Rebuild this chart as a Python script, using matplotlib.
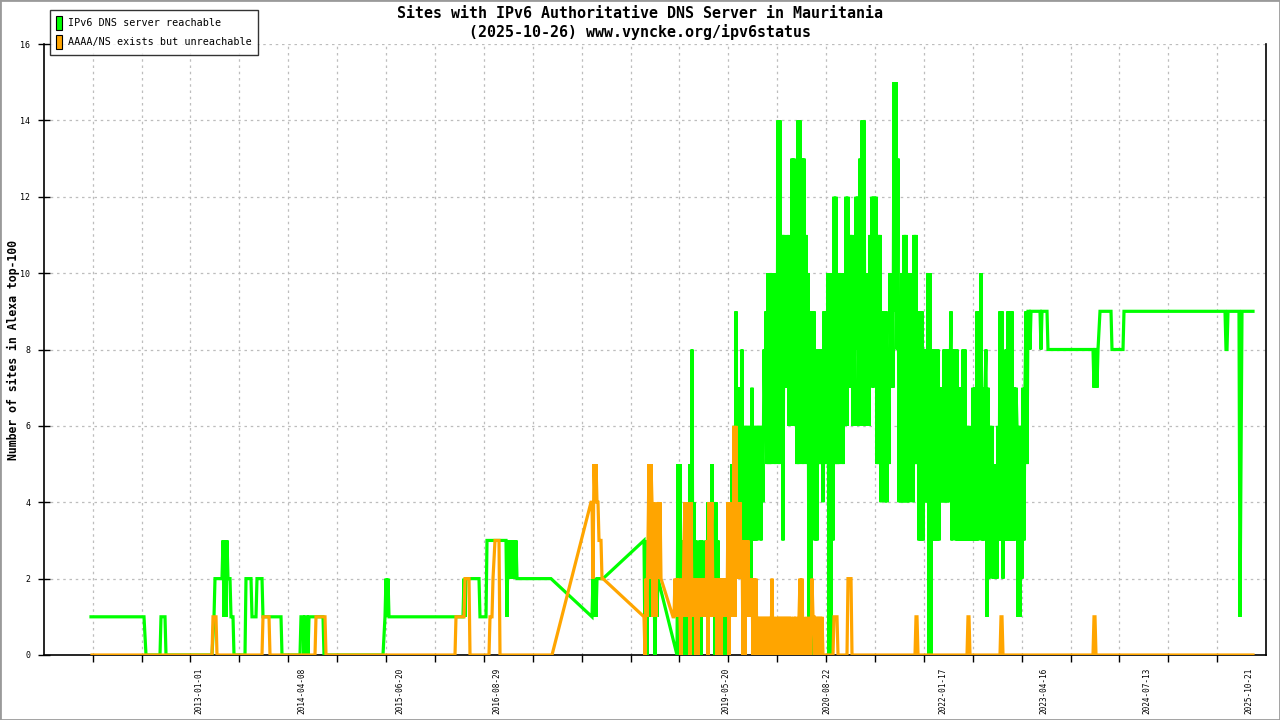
import numpy as np
import matplotlib
matplotlib.use("Agg")
import matplotlib.pyplot as plt
from matplotlib.patches import Rectangle, Patch

# ---------------- data (x = sample index on the text axis) ----------------
green_head = [(91,1),(144,1),(146,0),(160,0),(161,1),(165,1),(166,0),(212,0),(214,1),(215,2),
              (222,2),(223,3),(224,1),(225,3),(226,1),(227,3),(228,2),(230,2),(231,1),(233,1),
              (234,0),(245,0),(246,2),(251,2),(252,1),(256,1),(257,2),(262,2),(263,1),(281,1),
              (282,0),(300,0),(301,1),(303,1),(304,0),(305,1),(307,1),(308,0),(309,1),(323,1),
              (324,0),(383,0),(385,1),(386,2),(387,1),(388,2),(389,1),(390,1),(463,1),(464,2),
              (465,1),(466,2),(479,2),(480,1),(486,1),(487,3),(506,3),(507,1),(508,3),(509,2),
              (510,3),(511,2),(512,3),(513,2),(514,3),(515,2),(516,3),(517,2),(551,2),(592,1),
              (593,2),(594,1),(595,2),(596,1),(597,2),(603,2),(644,3),(645,0),(646,3),(647,0),
              (648,3),(649,1),(650,2),(651,1),(652,2),(653,1),(654,2),(655,0),(656,2),(657,1),
              (658,2),(677,0)]
green_dense_start = 678
green_dense = [5,0,5,0,3,0,3,1,3,0,2,0,
               5,0,8,0,4,1,3,0,2,0,
               3,0,3,1,2,1,3,1,4,2,
               4,1,5,1,4,0,4,0,3,0,
               2,0,2,0,2,0,2,0,3,0,
               3,1,5,3,6,2,9,4,7,2,
               7,3,8,3,6,3,6,4,6,2,
               6,2,7,3,6,3,6,3,6,4,
               6,3,6,4,8,6,9,5,10,5,
               10,5,10,6,10,5,10,6,14,5,
               14,6,11,3,11,7,10,7,11,6,
               10,7,13,6,13,7,12,5,14,5,
               14,7,13,5,13,7,11,5,10,0,
               9,0,9,4,9,3,8,3,8,5,
               8,5,8,4,9,5,9,5,10,0,
               10,0,8,3,12,5,12,5,10,5,
               10,6,10,5,9,6,12,6,12,7,
               11,7,11,6,9,6,12,8,12,6,
               13,7,14,6,14,6,10,6,10,6,
               11,8,12,7,12,8,12,5,11,5,
               11,4,9,5,9,4,9,4,8,5,
               10,7,10,7,15,9,15,8,13,4,
               9,4,10,4,11,4,11,4,10,4,
               9,5,10,4,11,5,11,5,9,3,
               9,3,9,3,8,4,8,4,10,0,
               10,0,8,3,8,3,8,3,8,3,
               7,4,7,4,8,4,8,4,8,4,
               7,9,3,8,4,8,3,8,3,7,
               3,7,3,8,3,8,3,6,3,6,
               3,5,3,7,3,7,3,9,3,9,
               4,10,3,7,3,7,8,1,7,2,
               6,3,6,2,5,2,5,2,6,3,
               9,3,9,2,7,3,8,3,9,3,
               9,3,9,3,7,3,7,6,1,6,
               1,6,2,7,3,7,9,5,9]
green_tail = [(1029,9),(1030,8),(1031,9),(1040,9),(1041,8),(1042,9),(1047,9),(1048,8),(1093,8),
              (1094,7),(1095,8),(1096,8),(1097,7),(1098,8),(1100,9),(1111,9),(1112,8),(1123,8),
              (1124,9),(1225,9),(1226,8),(1227,8),(1228,9),(1239,9),(1240,1),(1242,9),(1253,9)]

orange_head = [(92,0),(212,0),(213,1),(216,1),(217,0),(262,0),(263,1),(269,1),(270,0),(315,0),
               (316,1),(325,1),(326,0),(455,0),(456,1),(464,1),(465,2),(469,2),(470,0),(489,0),
               (490,1),(492,1),(493,2),(495,3),(499,3),(500,0),(552,0),(591,4),(592,4),(593,2),
               (594,5),(595,4),(596,5),(597,4),(598,4),(599,3),(601,3),(602,2),(603,2),(644,1),
               (645,0),(646,2),(647,1),(648,3),(649,5),(650,2),(651,5),(652,4),(653,1),(654,4),
               (655,2),(656,1),(657,3),(658,4),(659,2),(660,4),(661,2),(673,1)]
orange_dense_start = 674
orange_dense = [1,2,1,2,1,2,1,0,2,1,
                3,4,1,4,1,3,0,4,1,2,
                1,2,0,2,0,2,1,2,1,2,
                1,2,1,3,0,4,1,3,4,1,
                2,1,2,0,2,1,2,0,2,1,
                2,1,2,1,4,0,4,1,2,1,
                6,1,6,2,4,2,4,2,3,0,
                3,0,3,1,3,1,2,1,2,0,
                2,0,2,0,1,0,1,0,1,0,
                1,0,1,0,1,0,1,0,2,0,
                1,0,0,1,0,1,0,1,0,1,
                0,1,0,1,0,1,0,1,0,0,
                1,0,1,0,0,1,2,0,2,0,
                0,0,1,0,0,1,0,0,2,1,
                1,0,1,0,1,0,1,0,1,0,0,0]
orange_tail = [(826,0),(833,0),(834,1),(837,1),(838,0),(847,0),(848,2),(851,2),(852,0),(915,0),
               (916,1),(917,1),(918,0),(967,0),(968,1),(969,1),(970,0),(1000,0),(1001,1),
               (1002,1),(1003,0),(1093,0),(1094,1),(1095,1),(1096,0),(1253,0)]

date_labels = ["2013-01-01","2014-04-08","2015-06-20","2016-08-29","2019-05-20",
               "2020-08-22","2022-01-17","2023-04-16","2024-07-13","2025-10-21"]
date_label_idx = [198.5, 301.5, 400, 497, 726, 827, 943, 1043.5, 1146.5, 1249]
tick_first, tick_step, n_ticks = 92.6, 48.9, 24

series_names = ["IPv6 DNS server reachable", "AAAA/NS exists but unreachable"]
series_colors = ["#00ff00", "#ffa500"]

def build(head, start, dense, tail):
    xs = [p[0] for p in head] + list(range(start, start + len(dense))) + [p[0] for p in tail]
    ys = [p[1] for p in head] + list(dense) + [p[1] for p in tail]
    return np.array(xs, float), np.array(ys, float)

gx, gy = build(green_head, green_dense_start, green_dense, green_tail)
ox, oy = build(orange_head, orange_dense_start, orange_dense, orange_tail)

# ---------------- figure ----------------
W, H = 1280, 720
fig = plt.figure(figsize=(W/100, H/100), dpi=100)
fig.patch.set_facecolor("white")
ax = fig.add_axes([44/W, 1-655/H, (1266-44)/W, (655-44)/H])
ax.set_xlim(44, 1266)
ax.set_ylim(0, 16)

mono = "DejaVu Sans Mono"
grid_kw = dict(color="#bdbdbd", lw=0.9, ls=(0, (2, 3)))
for yv in range(2, 17, 2):
    ax.axhline(yv, zorder=0, **grid_kw)
xt = [tick_first + tick_step*k for k in range(n_ticks)]
for xv in xt:
    ax.axvline(xv, zorder=0, **grid_kw)

ax.plot(gx, gy, color=series_colors[0], lw=2.3, solid_joinstyle="miter", zorder=3)
ax.plot(ox, oy, color=series_colors[1], lw=2.3, solid_joinstyle="miter", zorder=4)

ax.spines["top"].set_visible(False)
for s in ["left", "bottom", "right"]:
    ax.spines[s].set_color("black")
    ax.spines[s].set_linewidth(1.2)

ax.set_yticks(range(0, 17, 2))
ax.set_yticklabels([str(v) for v in range(0, 17, 2)], family=mono, fontsize=6)
ax.tick_params(axis="y", direction="inout", length=8, width=1, pad=6)

ax.set_xticks(xt)
ax.set_xticklabels([""]*len(xt))
ax.tick_params(axis="x", which="major", direction="out", length=5, width=1)
ax.set_xticks(date_label_idx, minor=True)
ax.set_xticklabels(date_labels, minor=True, rotation=90, family=mono, fontsize=5.6)
ax.tick_params(axis="x", which="minor", length=0, pad=9)
ax.tick_params(axis="y", which="minor", length=0)

fig.text(13/W, 1-350/H, "Number of sites in Alexa top-100", rotation=90,
         ha="center", va="center", family=mono, fontweight="bold", fontsize=8.3)

fig.text(640/W, 1-14/H, "Sites with IPv6 Authoritative DNS Server in Mauritania",
         ha="center", va="center", family=mono, fontweight="bold", fontsize=10.8)
fig.text(640/W, 1-32/H, "(2025-10-26) www.vyncke.org/ipv6status",
         ha="center", va="center", family=mono, fontweight="bold", fontsize=10.8)

handles = [Patch(facecolor=c, edgecolor="black", lw=0.8) for c in series_colors]
leg = fig.legend(handles, series_names, loc="upper left",
                 bbox_to_anchor=(50/W, 1-10/H), prop={"family": mono, "size": 7.3},
                 frameon=True, fancybox=False, handlelength=0.6, handleheight=1.7,
                 handletextpad=0.55, borderpad=0.6, labelspacing=0.55, borderaxespad=0)
leg.get_frame().set_edgecolor("black")
leg.get_frame().set_linewidth(1.0)

fig.add_artist(Rectangle((0, 0), 1, 1, transform=fig.transFigure, fill=False,
                         edgecolor="#9a9a9a", lw=2))

fig.savefig("out.png", dpi=100)
